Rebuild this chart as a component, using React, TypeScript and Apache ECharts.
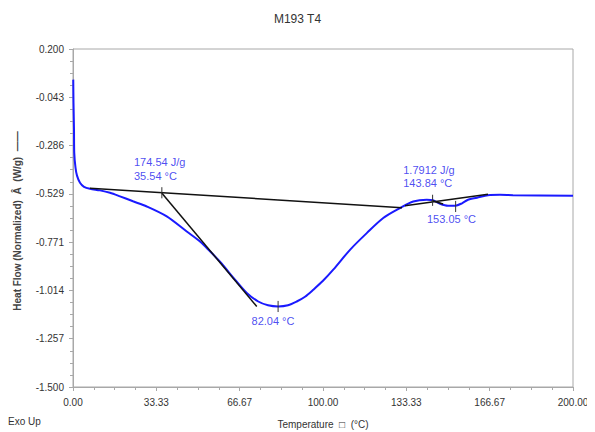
import React, { useEffect, useRef } from "react";
import * as echarts from "echarts";

// Blue DSC curve (temperature °C, heat flow W/g)
const temperature = [0.1, 0.2, 0.4, 0.5, 1.0, 1.6, 2.8, 4.4, 6.8, 10.8, 14.8, 18.8, 24, 29.5, 37.5, 45.5, 50.8, 53.5, 58.8, 64.8, 69.5, 74.1, 78, 82.1, 86, 89.5, 92.8, 96.1, 100, 104.1, 110.8, 117.5, 124.1, 130.8, 136.1, 141.5, 144, 146.8, 150, 153, 155.6, 158, 161.6, 166, 170.8, 176, 200];
const heatFlow = [0.046, -0.07, -0.206, -0.322, -0.397, -0.437, -0.473, -0.493, -0.503, -0.511, -0.523, -0.541, -0.566, -0.592, -0.642, -0.718, -0.768, -0.801, -0.87, -0.96, -1.027, -1.07, -1.089, -1.095, -1.089, -1.07, -1.046, -1.011, -0.966, -0.91, -0.81, -0.726, -0.65, -0.6, -0.567, -0.558, -0.561, -0.578, -0.588, -0.588, -0.576, -0.558, -0.548, -0.535, -0.533, -0.535, -0.538];

// Black construction lines [x1, y1, x2, y2]
const baseline1 = [6.8, -0.5, 131.6, -0.598];
const tangent1 = [35.5, -0.524, 73.5, -1.095];
const baseline2 = [132.8, -0.588, 166, -0.53];
const tangent2 = [143.5, -0.562, 148, -0.58];

// Marker ticks (x, y)
const markX = [35.54, 82.04, 143.84, 153.05];
const markY = [-0.523, -1.095, -0.561, -0.592];

// Annotations
const annText = ["174.54 J/g", "35.54 °C", "1.7912 J/g", "143.84 °C", "153.05 °C", "82.04 °C"];
const annX = [24.4, 24.4, 132.1, 132.1, 151.4, 80];
const annY = [-0.37, -0.437, -0.407, -0.474, -0.655, -1.17];
const annAlign = ["left", "left", "left", "left", "center", "center"];

const yMin = -1.5;
const yMax = 0.2;
const xTicks = 6;
const yTicks = 7;

const FONT = "Liberation Sans, Arial, sans-serif";

export default function App() {
  const ref = useRef<HTMLDivElement>(null);
  useEffect(() => {
    if (!ref.current) return;
    const chart = echarts.init(ref.current, undefined, { renderer: "svg" });
    const sh = (v: number) => v - yMin;
    const seg = (s: number[]) => [[s[0], sh(s[1])], [s[2], sh(s[3])]];
    const blackLine = (d: number[][]) => ({
      type: "line",
      data: d,
      showSymbol: false,
      symbol: "none",
      lineStyle: { color: "#111", width: 1.5 },
      z: 3,
    });
    const marks = markX.map((x, i) =>
      blackLine([
        [x, sh(markY[i]) - 0.028],
        [x, sh(markY[i]) + 0.028],
      ])
    );
    marks.forEach((m: any) => (m.lineStyle = { color: "#333", width: 1 }));
    chart.setOption({
      animation: false,
      title: {
        text: "M193 T4",
        left: "center",
        top: 8,
        textStyle: { fontSize: 12, fontWeight: "normal", color: "#333", fontFamily: FONT },
      },
      grid: {
        left: 73,
        right: 22,
        top: 49,
        bottom: 45,
        show: true,
        borderColor: "#a8a8a8",
        borderWidth: 1,
      },
      xAxis: {
        type: "value",
        min: 0,
        max: 200,
        interval: 200 / xTicks,
        axisLine: { lineStyle: { color: "#a8a8a8" } },
        axisTick: { length: 4, lineStyle: { color: "#a8a8a8" } },
        minorTick: { show: true, splitNumber: 4, length: 3, lineStyle: { color: "#a8a8a8" } },
        splitLine: { show: false },
        axisLabel: {
          margin: 10,
          fontSize: 10,
          color: "#333",
          fontFamily: FONT,
          formatter: (v: number) => v.toFixed(2),
        },
      },
      yAxis: {
        type: "value",
        min: 0,
        max: yMax - yMin,
        interval: (yMax - yMin) / yTicks,
        axisLine: { show: true, lineStyle: { color: "#a8a8a8" } },
        axisTick: { show: true, length: 4, lineStyle: { color: "#a8a8a8" } },
        minorTick: { show: true, splitNumber: 4, length: 3, lineStyle: { color: "#a8a8a8" } },
        splitLine: { show: false },
        axisLabel: {
          margin: 9,
          fontSize: 10,
          color: "#333",
          fontFamily: FONT,
          formatter: (v: number) => (v + yMin).toFixed(3),
        },
      },
      graphic: [
        {
          type: "text",
          x: 17,
          y: 221,
          rotation: Math.PI / 2,
          style: {
            text: "Heat Flow (Normalized)  Â  (W/g)  ——",
            fontSize: 10,
            fontWeight: "bold",
            fill: "#444",
            fontFamily: FONT,
            align: "center",
            verticalAlign: "middle",
          },
        },
        {
          type: "text",
          x: 323,
          y: 424,
          style: {
            text: "Temperature  □  (°C)",
            fontSize: 10,
            fill: "#333",
            fontFamily: FONT,
            align: "center",
            verticalAlign: "middle",
          },
        },
        {
          type: "text",
          x: 8,
          y: 421,
          style: {
            text: "Exo Up",
            fontSize: 10,
            fill: "#333",
            fontFamily: FONT,
            align: "left",
            verticalAlign: "middle",
          },
        },
      ],
      series: [
        {
          type: "line",
          data: temperature.map((t, i) => [t, sh(heatFlow[i])]),
          smooth: 0.3,
          showSymbol: false,
          symbol: "none",
          lineStyle: { color: "#1a1aff", width: 2 },
          z: 2,
        },
        blackLine(seg(baseline1)),
        blackLine(seg(tangent1)),
        blackLine(seg(baseline2)),
        blackLine(seg(tangent2)),
        ...marks,
        {
          type: "scatter",
          symbolSize: 0,
          data: annText.map((t, i) => ({
            value: [annX[i], sh(annY[i])],
            label: {
              show: true,
              position: [0, 0],
              formatter: t,
              align: annAlign[i],
              verticalAlign: "middle",
              color: "#2020ee",
              fontSize: 11,
              fontFamily: FONT,
            },
          })),
          z: 5,
        },
      ],
    });
    return () => chart.dispose();
  }, []);
  return <div ref={ref} style={{ width: 595, height: 432, marginLeft: -8, marginTop: -8 }} />;
}
